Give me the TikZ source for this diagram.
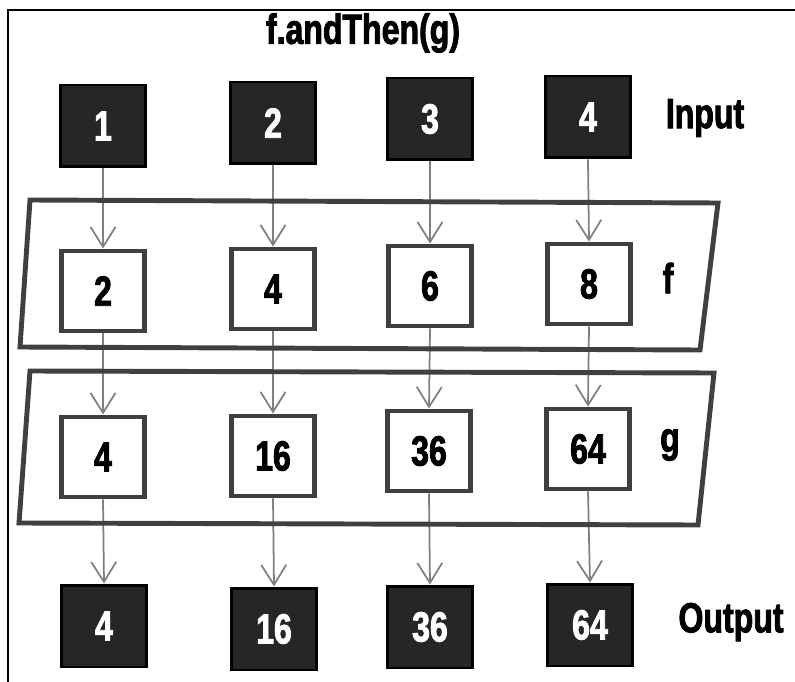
\documentclass[tikz,border=0pt]{standalone}
\usepackage{fontspec}
\setmainfont{Liberation Sans}[FakeStretch=0.76, BoldFeatures={FakeBold=2}]
\usetikzlibrary{arrows.meta, positioning, backgrounds}
\tikzset{
  inbox/.style  = {draw=black, line width=1.7pt, fill=black!85, text=white,
                   minimum width=1.7cm, minimum height=1.64cm, inner sep=0pt},
  fnbox/.style  = {draw=black!75, line width=2.8pt, fill=white,
                   minimum width=1.66cm, minimum height=1.6cm, inner sep=0pt},
  band/.style   = {draw=black!75, line width=2.8pt, line join=miter},
  flow/.style   = {-{Straight Barb[length=4mm, width=5mm]}, line width=1pt, draw=black!50},
  lbl/.style    = {inner sep=0pt}
}

\begin{document}
\begin{tikzpicture}[x=0.02cm, y=-0.02cm, font=\fontsize{24}{26}\selectfont\bfseries]
\useasboundingbox (0,0) rectangle (795,682);
\draw[line width=1.7pt] (795,10) -- (8,10) -- (8,682);

\node[lbl] (title) at (363,33) {f.andThen(g)};

% Input row
\foreach \i/\px/\py/\v in {1/103/126/1, 2/273/123/2, 3/430/119/3, 4/588/117/4}
  \node[inbox] (in\i) at (\px,\py) {\v};
\node[lbl] (inlbl) at (705,118) {Input};

% f row
\foreach \i/\px/\py/\v in {1/103/291/2, 2/273/289/4, 3/430/286/6, 4/589/284/8}
  \node[fnbox] (f\i) at (\px,\py) {\v};
\node[lbl] (flbl) at (668,278) {f};

% g row
\foreach \i/\px/\py/\v in {1/103/457/4, 2/273/456/16, 3/429/451/36, 4/588/449/64}
  \node[fnbox] (g\i) at (\px,\py) {\v};
\node[lbl] (glbl) at (670,445) {g};

% Output row
\foreach \i/\px/\py/\v in {1/104/626/4, 2/274/629/16, 3/430/627/36, 4/590/625/64}
  \node[inbox] (out\i) at (\px,\py) {\v};
\node[lbl] (outlbl) at (731,622) {Output};

\begin{scope}[on background layer]
\foreach \i in {1,...,4} {
  \draw[flow] (in\i.south) -- (f\i.north);
  \draw[flow] (f\i.south) -- (g\i.north);
  \draw[flow] (g\i.south) -- (out\i.north);
}
% function bands
\draw[band] (30,200) -- (718,203) -- (700,350) -- (20,347) -- cycle;
\draw[band] (30,371) -- (714,373) -- (698,525) -- (19,523) -- cycle;
\end{scope}
\end{tikzpicture}
\end{document}
